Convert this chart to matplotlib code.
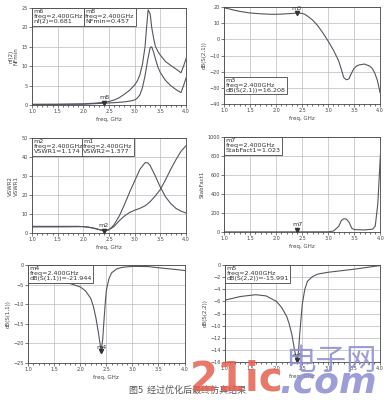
import numpy as np
import matplotlib.pyplot as plt

plt.rcParams['font.family'] = ['DejaVu Sans', 'Noto Sans CJK SC']

# noise figure
f_nf = [1.0, 1.5, 2.0, 2.2, 2.4, 2.5, 2.6, 2.7, 2.8, 2.9, 3.0, 3.05, 3.1, 3.15, 3.2, 3.23, 3.26,
        3.3, 3.33, 3.37, 3.4, 3.45, 3.5, 3.6, 3.7, 3.8, 3.9, 3.95, 4.0]
nf2 = [0.2, 0.2, 0.3, 0.45, 0.68, 0.9, 1.3, 1.9, 2.8, 3.8, 5.2, 6.2, 7.8, 10.5, 15, 20, 24.5,
       23.5, 20, 17, 15.2, 13.8, 12.8, 11.2, 10.2, 9.3, 8.3, 10, 12]
f_nfmin = [1.0, 2.0, 2.4, 2.6, 2.8, 2.9, 3.0, 3.05, 3.1, 3.15, 3.2, 3.25, 3.3, 3.33, 3.37,
           3.4, 3.45, 3.5, 3.6, 3.7, 3.8, 3.9, 3.95, 4.0]
nfmin = [0.1, 0.2, 0.46, 0.6, 0.8, 1.0, 1.3, 1.8, 2.6, 4.5, 7.5, 11.5, 14.8, 15, 13.5,
         12, 9.8, 8.3, 6.3, 5, 4, 3.2, 5, 7]

# gain S21
f_s21 = [1.0, 1.1, 1.2, 1.3, 1.5, 1.7, 1.9, 2.0, 2.1, 2.2, 2.3, 2.4, 2.5, 2.55, 2.6, 2.7, 2.8,
         2.9, 3.0, 3.1, 3.2, 3.25, 3.3, 3.35, 3.4, 3.45, 3.5, 3.55, 3.6, 3.7, 3.8, 3.85, 3.9, 3.95, 4.0]
s21 = [19.5, 18.8, 18, 17.3, 16.3, 15.8, 15.5, 15.5, 15.6, 15.8, 16, 16.2, 16.1, 15.5, 14.5, 12,
       8.5, 4, -1, -6.5, -13, -18, -23.5, -25, -24.5, -21, -18, -16.5, -15.8, -15.3, -16.5, -18,
       -21, -25.5, -33]

# VSWR
f_vswr = [1.0, 1.5, 1.9, 2.0, 2.1, 2.2, 2.3, 2.4, 2.45, 2.5, 2.55, 2.6, 2.7, 2.8, 2.9, 3.0, 3.1,
          3.2, 3.25, 3.3, 3.4, 3.5, 3.6, 3.7, 3.8, 3.9, 4.0]
vswr1 = [3.5, 3.5, 3.5, 3.3, 3.0, 2.5, 1.8, 1.17, 1.2, 1.8, 3.0, 4.5, 9, 15, 21.5, 27.5, 33.5,
         37, 37, 35.5, 30, 24, 19, 15.5, 13, 11.5, 10.5]
vswr2 = [3.2, 3.2, 3.3, 3.4, 3.1, 2.6, 1.9, 1.38, 1.4, 1.8, 2.6, 3.5, 6.5, 9, 10.8, 12, 13,
         14.3, 15.3, 16.5, 19.5, 23, 28, 33.5, 38.5, 43, 46]

# stability factor
f_k = [1.0, 2.0, 3.0, 3.1, 3.2, 3.25, 3.3, 3.35, 3.4, 3.45, 3.5, 3.7, 3.85, 3.9, 3.95, 4.0]
stab = [1, 1, 2, 10, 60, 120, 140, 135, 100, 40, 25, 22, 30, 60, 300, 820]

# S11 and S22
f_s11 = [1.0, 1.2, 1.5, 1.8, 2.0, 2.1, 2.2, 2.25, 2.3, 2.35, 2.4, 2.43, 2.45, 2.48, 2.5, 2.55,
         2.6, 2.7, 2.8, 3.0, 3.3, 3.5, 3.8, 4.0]
s11 = [-4.6, -4.4, -4.3, -4.7, -5.6, -6.6, -8.5, -10.5, -13.5, -17.5, -21.9, -19, -15, -9.5,
       -6.5, -3.5, -2.0, -1.0, -0.6, -0.35, -0.4, -0.7, -1.1, -1.4]
f_s22 = [1.0, 1.3, 1.6, 1.8, 2.0, 2.1, 2.2, 2.25, 2.3, 2.35, 2.4, 2.43, 2.45, 2.5, 2.55, 2.6,
         2.7, 2.8, 3.0, 3.5, 4.0]
s22 = [-5.8, -5.2, -4.9, -5.1, -6.0, -7.0, -8.5, -9.8, -11.5, -14, -16, -14, -11.5, -6.5, -4,
       -2.7, -1.9, -1.5, -1.2, -0.7, -0.1]

lc = '#555560'
fig = plt.figure(figsize=(3.91, 4.0), dpi=100, facecolor='white')


def panel(rect, ylim, ystep, ylabel):
    ax = fig.add_axes(rect)
    ax.set_xlim(1.0, 4.0)
    ax.set_ylim(*ylim)
    ax.set_xticks(np.arange(1.0, 4.01, 0.5))
    ax.set_xticks(np.arange(1.0, 4.01, 0.1), minor=True)
    ax.set_yticks(np.arange(ylim[0], ylim[1] + ystep / 2, ystep))
    ax.set_xticklabels(['1.0', '1.5', '2.0', '2.5', '3.0', '3.5', '4.0'])
    ax.tick_params(labelsize=3.5, length=2, width=0.5, pad=1, colors='#444')
    ax.tick_params(which='minor', length=1.2, width=0.4)
    ax.grid(True, color='#bbbbbb', linewidth=0.5)
    for s in ax.spines.values():
        s.set_color('#444')
        s.set_linewidth(0.6)
    ax.set_xlabel('freq, GHz', fontsize=4, labelpad=2, color='#444')
    ax.set_ylabel(ylabel, fontsize=4, labelpad=2, color='#444')
    return ax


def box(ax, x, y, txt):
    ax.text(x, y, txt, transform=ax.transAxes, fontsize=4.6, va='top', ha='left',
            color='#333', linespacing=1.0,
            bbox=dict(boxstyle='square,pad=0.2', fc='white', ec='#444', lw=0.6))


def mark(ax, x, y, name, dy):
    ax.plot([x], [y], marker='v', color='#333', markersize=3)
    ax.text(x, y + dy, name, fontsize=4.6, ha='center', va='bottom', color='#333')


ax1 = panel([0.082, 0.7375, 0.394, 0.2425], (0, 25), 5, 'nf(2)\nNFmin')
ax1.plot(f_nf, nf2, color=lc, lw=0.8)
ax1.plot(f_nfmin, nfmin, color=lc, lw=0.8)
mark(ax1, 2.4, 0.6, 'm8', 0.8)
box(ax1, 0.01, 0.985, 'm6\nfreq=2.400GHz\nnf(2)=0.681')
box(ax1, 0.345, 0.985, 'm8\nfreq=2.400GHz\nNFmin=0.457')

ax2 = panel([0.573, 0.74, 0.399, 0.2425], (-40, 20), 10, 'dB(S(2,1))')
ax2.plot(f_s21, s21, color=lc, lw=0.8)
mark(ax2, 2.4, 16.2, 'm3', 1.5)
box(ax2, 0.01, 0.27, 'm3\nfreq=2.400GHz\ndB(S(2,1))=16.208')

ax3 = panel([0.082, 0.4175, 0.394, 0.2375], (0, 50), 10, 'VSWR2\nVSWR1')
ax3.plot(f_vswr, vswr1, color=lc, lw=0.8)
ax3.plot(f_vswr, vswr2, color=lc, lw=0.8)
mark(ax3, 2.4, 1.3, 'm2', 1.5)
box(ax3, 0.01, 0.985, 'm2\nfreq=2.400GHz\nVSWR1=1.174')
box(ax3, 0.33, 0.985, 'm1\nfreq=2.400GHz\nVSWR2=1.377')

ax4 = panel([0.573, 0.42, 0.40, 0.2375], (0, 1000), 200, 'StabFact1')
ax4.plot(f_k, stab, color=lc, lw=0.8)
mark(ax4, 2.4, 20, 'm7', 30)
box(ax4, 0.01, 0.985, 'm7\nfreq=2.400GHz\nStabFact1=1.023')

ax5 = panel([0.072, 0.0925, 0.40, 0.245], (-25, 0), 5, 'dB(S(1,1))')
ax5.plot(f_s11, s11, color=lc, lw=0.8)
mark(ax5, 2.4, -21.9, 'm4', 0.3)
box(ax5, 0.01, 0.985, 'm4\nfreq=2.400GHz\ndB(S(1,1))=-21.944')

ax6 = panel([0.575, 0.095, 0.396, 0.2425], (-16, 0), 2, 'dB(S(2,2))')
ax6.plot(f_s22, s22, color=lc, lw=0.8)
mark(ax6, 2.4, -15.6, 'm5', 0.2)
box(ax6, 0.01, 0.985, 'm5\nfreq=2.400GHz\ndB(S(2,2))=-15.991')

# caption and watermark
fig.text(0.33, 0.025, '图5  经过优化后最终仿真结果', fontsize=6.5, color='#555',
         family=['Noto Sans CJK SC', 'DejaVu Sans'], ha='left', va='center')
fig.text(0.485, 0.002, '21ic', fontsize=29, color='#e5604f', weight='bold', alpha=0.85,
         ha='left', va='bottom')
fig.text(0.728, 0.097, '电子网', fontsize=22, color='#8c8cd0', alpha=0.85,
         family=['Noto Sans CJK SC', 'DejaVu Sans'], ha='left', va='center')
fig.text(0.715, 0.002, '.com', fontsize=26, color='#8c8cd0', alpha=0.85, style='italic',
         weight='bold', ha='left', va='bottom')

fig.savefig('out.png', dpi=100)
